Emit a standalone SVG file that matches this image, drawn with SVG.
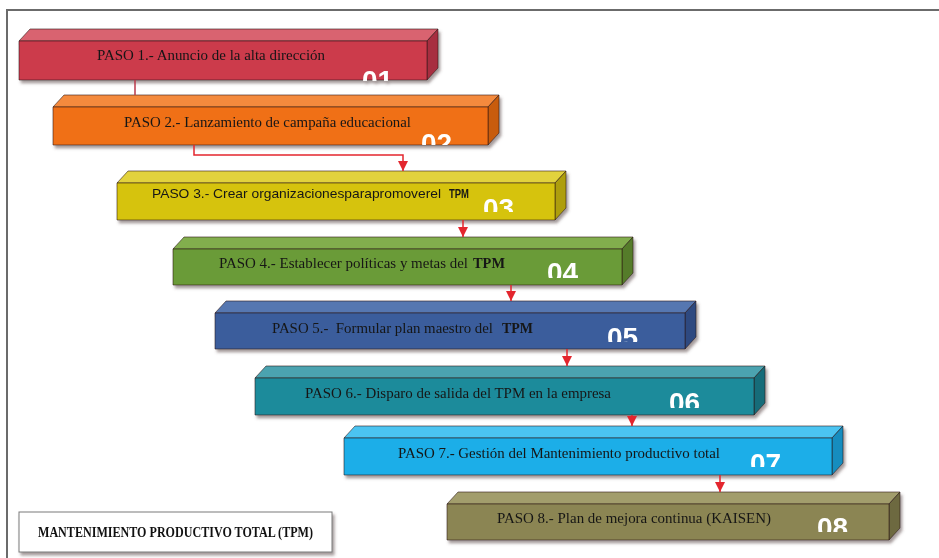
<svg xmlns="http://www.w3.org/2000/svg" width="939" height="558" viewBox="0 0 939 558">
  <style>
    .edgeline { stroke: rgba(40,20,20,0.55); stroke-width: 1; stroke-linejoin: round; }
    .lbl { font-family: "Liberation Serif", "Times New Roman", serif; font-size: 15px; fill: #161616; }
    .lbl-sans { font-family: "Liberation Sans", Arial, sans-serif; font-size: 13.5px; fill: #161616; }
    .b { font-weight: bold; }
    .num { font-family: "Liberation Sans", Arial, sans-serif; font-weight: bold; font-size: 28px; fill: #ffffff; }
    .link { fill: none; stroke: #e3262e; stroke-width: 1.5; }
    .link-dark { fill: none; stroke: #b8384a; stroke-width: 1.5; }
    .legend { font-family: "Liberation Serif", "Times New Roman", serif; font-size: 14px; font-weight: bold; fill: #111; }
  </style>
  <defs>
    <filter id="shadow" x="-5%" y="-20%" width="110%" height="150%">
      <feDropShadow dx="2" dy="3" stdDeviation="1.5" flood-color="#5a4a4a" flood-opacity="0.55"/>
    </filter>
    <marker id="arrow" viewBox="0 0 10 10" refX="10" refY="5" markerWidth="12" markerHeight="10" markerUnits="userSpaceOnUse" orient="auto">
      <path d="M0,0 L10,5 L0,10 z" fill="#e3262e"/>
    </marker>
    <clipPath id="c1" clipPathUnits="userSpaceOnUse"><rect x="358" y="66" width="44" height="15"/></clipPath>
    <clipPath id="c2" clipPathUnits="userSpaceOnUse"><rect x="417" y="129" width="44" height="16"/></clipPath>
    <clipPath id="c3" clipPathUnits="userSpaceOnUse"><rect x="479" y="194" width="44" height="18"/></clipPath>
    <clipPath id="c4" clipPathUnits="userSpaceOnUse"><rect x="543" y="258" width="44" height="20"/></clipPath>
    <clipPath id="c5" clipPathUnits="userSpaceOnUse"><rect x="603" y="323" width="44" height="19"/></clipPath>
    <clipPath id="c6" clipPathUnits="userSpaceOnUse"><rect x="665" y="388" width="44" height="20"/></clipPath>
    <clipPath id="c7" clipPathUnits="userSpaceOnUse"><rect x="746" y="449" width="44" height="18"/></clipPath>
    <clipPath id="c8" clipPathUnits="userSpaceOnUse"><rect x="813" y="513" width="44" height="19"/></clipPath>
  </defs>

  <rect width="939" height="558" fill="#ffffff"/>
  <!-- page frame -->
  <path d="M7,558 V10 H939" fill="none" stroke="#6b6b6b" stroke-width="2"/>

  <!-- step 1 -->
  <g id="paso1" filter="url(#shadow)">
    <polygon class="edgeline" points="19,41 30,29 438,29 427,41" fill="#d9636f"/>
    <polygon class="edgeline" points="427,41 438,29 438,68 427,80" fill="#a72f3f"/>
    <rect class="edgeline" x="19" y="41" width="408" height="39" fill="#cc3a4c"/>
    <text class="lbl" x="97" y="60" textLength="228" lengthAdjust="spacingAndGlyphs">PASO 1.- Anuncio de la alta dirección</text>
    <text class="num" x="362" y="90" clip-path="url(#c1)">01</text>
  </g>

  <!-- step 2 -->
  <g id="paso2" filter="url(#shadow)">
    <polygon class="edgeline" points="53,107 64,95 499,95 488,107" fill="#f48a3c"/>
    <polygon class="edgeline" points="488,107 499,95 499,133 488,145" fill="#c85c0c"/>
    <rect class="edgeline" x="53" y="107" width="435" height="38" fill="#f07012"/>
    <text class="lbl" x="124" y="127" textLength="287" lengthAdjust="spacingAndGlyphs">PASO 2.- Lanzamiento de campaña educacional</text>
    <text class="num" x="421" y="153" clip-path="url(#c2)">02</text>
  </g>

  <!-- step 3 -->
  <g id="paso3" filter="url(#shadow)">
    <polygon class="edgeline" points="117,183 128,171 566,171 555,183" fill="#e2d23e"/>
    <polygon class="edgeline" points="555,183 566,171 566,208 555,220" fill="#ae9e08"/>
    <rect class="edgeline" x="117" y="183" width="438" height="37" fill="#d6c30c"/>
    <text class="lbl-sans" x="152" y="198" textLength="289" lengthAdjust="spacingAndGlyphs">PASO 3.- Crear organizacionesparapromoverel</text>
    <text class="lbl-sans b" x="449" y="198" font-size="13px" textLength="20" lengthAdjust="spacingAndGlyphs">TPM</text>
    <text class="num" x="483" y="218" clip-path="url(#c3)">03</text>
  </g>

  <!-- step 4 -->
  <g id="paso4" filter="url(#shadow)">
    <polygon class="edgeline" points="173,249 184,237 633,237 622,249" fill="#82ae4e"/>
    <polygon class="edgeline" points="622,249 633,237 633,273 622,285" fill="#547c29"/>
    <rect class="edgeline" x="173" y="249" width="449" height="36" fill="#6b9b37"/>
    <text class="lbl" x="219" y="268" textLength="249" lengthAdjust="spacingAndGlyphs">PASO 4.- Establecer políticas y metas del</text>
    <text class="lbl b" x="473" y="268" textLength="32" lengthAdjust="spacingAndGlyphs">TPM</text>
    <text class="num" x="547" y="282" clip-path="url(#c4)">04</text>
  </g>

  <!-- step 5 -->
  <g id="paso5" filter="url(#shadow)">
    <polygon class="edgeline" points="215,313 226,301 696,301 685,313" fill="#5677b1"/>
    <polygon class="edgeline" points="685,313 696,301 696,337 685,349" fill="#2d4a80"/>
    <rect class="edgeline" x="215" y="313" width="470" height="36" fill="#3a5d9c"/>
    <text class="lbl" x="272" y="333" xml:space="preserve" textLength="221" lengthAdjust="spacingAndGlyphs">PASO 5.-  Formular plan maestro del</text>
    <text class="lbl b" x="502" y="333" textLength="31" lengthAdjust="spacingAndGlyphs">TPM</text>
    <text class="num" x="607" y="347" clip-path="url(#c5)">05</text>
  </g>

  <!-- step 6 -->
  <g id="paso6" filter="url(#shadow)">
    <polygon class="edgeline" points="255,378 266,366 765,366 754,378" fill="#4ba3b0"/>
    <polygon class="edgeline" points="754,378 765,366 765,403 754,415" fill="#166c79"/>
    <rect class="edgeline" x="255" y="378" width="499" height="37" fill="#1f8b9b"/>
    <text class="lbl" x="305" y="398" textLength="306" lengthAdjust="spacingAndGlyphs">PASO 6.- Disparo de salida del TPM en la empresa</text>
    <text class="num" x="669" y="412" clip-path="url(#c6)">06</text>
  </g>

  <!-- step 7 -->
  <g id="paso7" filter="url(#shadow)">
    <polygon class="edgeline" points="344,438 355,426 843,426 832,438" fill="#4cc4f1"/>
    <polygon class="edgeline" points="832,438 843,426 843,463 832,475" fill="#138dbf"/>
    <rect class="edgeline" x="344" y="438" width="488" height="37" fill="#1aaee8"/>
    <text class="lbl" x="398" y="458" textLength="322" lengthAdjust="spacingAndGlyphs">PASO 7.- Gestión del Mantenimiento productivo total</text>
    <text class="num" x="750" y="473" clip-path="url(#c7)">07</text>
  </g>

  <!-- step 8 -->
  <g id="paso8" filter="url(#shadow)">
    <polygon class="edgeline" points="447,504 458,492 900,492 889,504" fill="#a29d6c"/>
    <polygon class="edgeline" points="889,504 900,492 900,528 889,540" fill="#6d693f"/>
    <rect class="edgeline" x="447" y="504" width="442" height="36" fill="#8b8552"/>
    <text class="lbl" x="497" y="523" textLength="274" lengthAdjust="spacingAndGlyphs">PASO 8.- Plan de mejora continua (KAISEN)</text>
    <text class="num" x="817" y="537" clip-path="url(#c8)">08</text>
  </g>

  <!-- title box -->
  <g id="titulo">
    <rect x="19" y="512" width="313" height="40" fill="#ffffff" stroke="#7a7a7a" stroke-width="1" filter="url(#shadow)"/>
    <text class="legend" x="38" y="537" textLength="275" lengthAdjust="spacingAndGlyphs">MANTENIMIENTO PRODUCTIVO TOTAL (TPM)</text>
  </g>

  <!-- connectors -->
  <g id="conectores">
    <path class="link-dark" d="M135,80 V95"/>
    <path class="link" d="M194,145 V155 H403 V171" marker-end="url(#arrow)"/>
    <path class="link" d="M463,220 V237" marker-end="url(#arrow)"/>
    <path class="link" d="M511,285 V301" marker-end="url(#arrow)"/>
    <path class="link" d="M567,349 V366" marker-end="url(#arrow)"/>
    <path class="link" d="M632,415 V426" marker-end="url(#arrow)"/>
    <path class="link" d="M720,475 V492" marker-end="url(#arrow)"/>
  </g>
</svg>
